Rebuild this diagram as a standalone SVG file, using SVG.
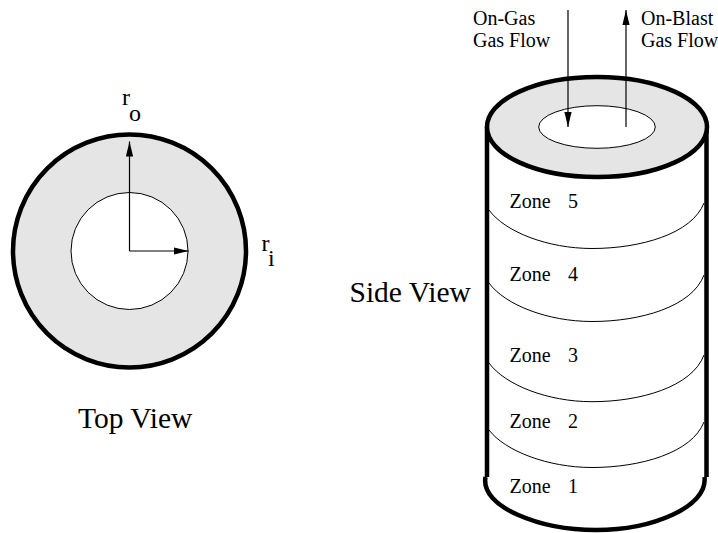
<svg xmlns="http://www.w3.org/2000/svg" width="718" height="533" viewBox="0 0 718 533">
<defs>
<marker id="a" markerUnits="userSpaceOnUse" markerWidth="16" markerHeight="8" refX="15" refY="4" orient="auto"><path d="M0 0.4L15 4L0 7.6z" fill="#000"/></marker>
</defs>
<style>
text{font-family:"Liberation Serif","Times New Roman",serif;fill:#000}
.s{font-size:20px}.m{font-size:24px}.l{font-size:29.5px}
.t{fill:none;stroke:#000;stroke-width:1}
.k{fill:none;stroke:#000;stroke-width:4.5}
.g{fill:#e5e5e5;stroke:#000;stroke-width:4.5}
.h{fill:#fff;stroke:#000;stroke-width:1}
.r{fill:none;stroke:#000;stroke-width:1.2;marker-end:url(#a)}
</style>
<rect width="718" height="533" fill="#fff"/>
<g id="top-view">
<circle class="g" cx="129.5" cy="251" r="116.500"/>
<circle class="h" cx="129.5" cy="251" r="58.500"/>
<text class="m" x="122" y="105">r</text><text class="m" x="129" y="121">o</text>
<text class="m" x="261.500" y="251">r</text><text class="m" x="268" y="266">i</text>
<text class="l" x="78" y="427.500">Top View</text>
</g>
<g id="side-view">
<path class="k" d="M487 127V477M706.500 127V477"/>
<path class="k" d="M485.500 477C480 507 540 530 596 530C652 530 708 507 704.500 477"/>
<ellipse class="g" cx="597" cy="127" rx="110" ry="50"/>
<ellipse class="h" cx="597" cy="127" rx="58.300" ry="21.300"/>
<text class="l" x="349.500" y="302">Side View</text>
</g>
<g id="zones">
<path class="t" d="M489 210C505 232 548 248.500 592 248.500C640 248.500 692 234 704 203"/>
<path class="t" d="M489 283C505 305 548 321.500 592 321.500C640 321.500 692 307 704 275"/>
<path class="t" d="M489 363C505 385 548 401.700 592 401.700C640 401.700 692 387 704 355"/>
<path class="t" d="M489 430C505 451 548 467.500 592 467.500C640 467.500 692 453 704 422"/>
<text class="s" x="509.500" y="207.500">Zone</text><text class="s" x="568" y="207.500">5</text>
<text class="s" x="509.500" y="281">Zone</text><text class="s" x="568" y="281">4</text>
<text class="s" x="509.500" y="361.500">Zone</text><text class="s" x="568" y="361.500">3</text>
<text class="s" x="509.500" y="427.500">Zone</text><text class="s" x="568" y="427.500">2</text>
<text class="s" x="509.500" y="492.500">Zone</text><text class="s" x="568" y="492.500">1</text>
</g>
<g id="flow-labels">
<text class="s" x="473" y="25">On-Gas</text>
<text class="s" x="473" y="47">Gas Flow</text>
<text class="s" x="641" y="25">On-Blast</text>
<text class="s" x="641" y="47">Gas Flow</text>
</g>
<g id="connectors">
<path class="r" d="M129.500 251V141.500"/>
<path class="r" d="M129.500 251H188.500"/>
<path class="r" d="M568 10V127"/>
<path class="r" d="M626 127V10"/>
</g>
</svg>
